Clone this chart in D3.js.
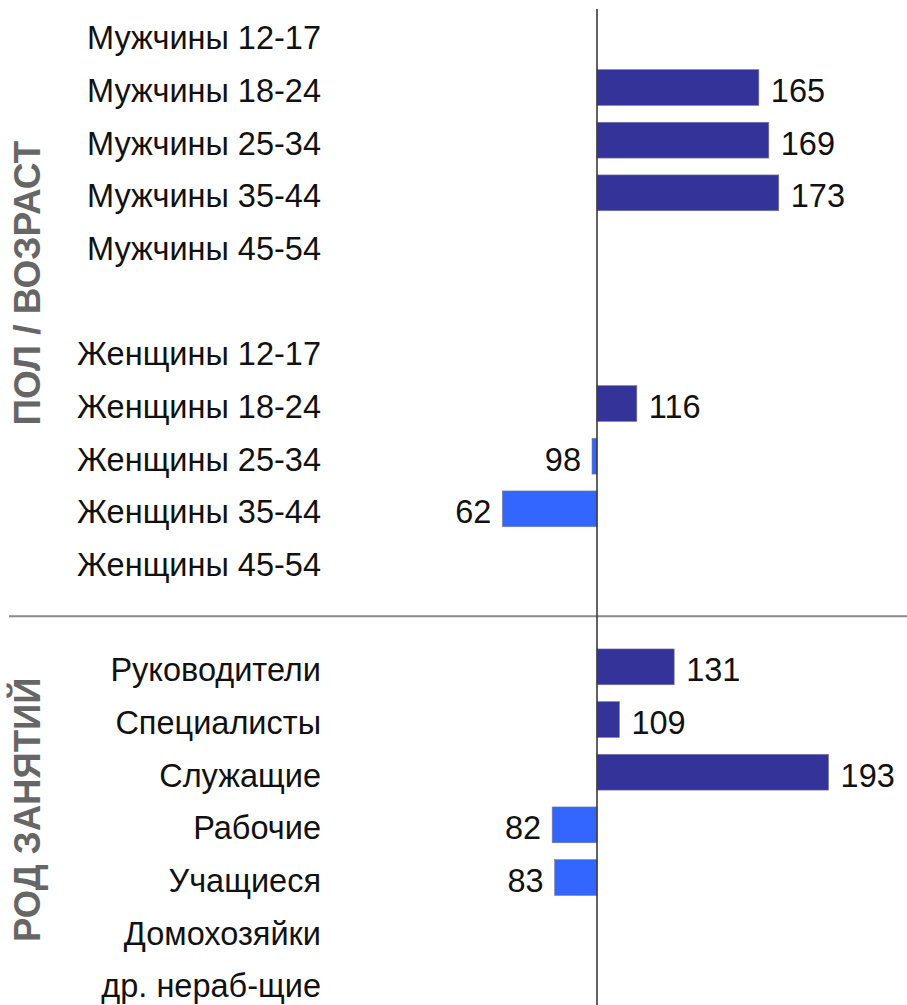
<!DOCTYPE html>
<html>
<head>
<meta charset="utf-8">
<script src="https://cdn.jsdelivr.net/npm/d3@7"></script>
<style>
  html, body { margin: 0; padding: 0; background: #fff; }
  svg { display: block; }
  text { font-family: "Liberation Sans", Arial, sans-serif; }
</style>
</head>
<body>
<svg id="chart" width="907" height="1005"></svg>
<script>
// ---- Data ----
const sexAgeTitle = "ПОЛ / ВОЗРАСТ";
const sexAgeCategories = ["Мужчины 12-17", "Мужчины 18-24", "Мужчины 25-34", "Мужчины 35-44", "Мужчины 45-54",
                          "Женщины 12-17", "Женщины 18-24", "Женщины 25-34", "Женщины 35-44", "Женщины 45-54"];
const sexAgeValues = [null, 165, 169, 173, null, null, 116, 98, 62, null];

const occupationTitle = "РОД ЗАНЯТИЙ";
const occupationCategories = ["Руководители", "Специалисты", "Служащие", "Рабочие", "Учащиеся", "Домохозяйки", "др. нераб-щие"];
const occupationValues = [131, 109, 193, 82, 83, null, null];

const baseline = 100;

// ---- Build rows (with spacer slots) ----
const rows = [];
sexAgeCategories.forEach((c, i) => {
  rows.push({ key: "a" + i, label: c, value: sexAgeValues[i] });
  if (i === 4) rows.push({ key: "gap1", label: "", value: null, spacer: true });
});
rows.push({ key: "sep", label: "", value: null, spacer: true });
occupationCategories.forEach((c, i) => rows.push({ key: "b" + i, label: c, value: occupationValues[i] }));

const svg = d3.select("#chart");

const y = d3.scaleBand()
  .domain(rows.map(d => d.key))
  .range([8.5, 1009.2])
  .paddingInner(0.32)
  .paddingOuter(0.16);

const x = d3.scaleLinear().domain([0, 200]).range([348, 846]);

const colHi = "#333399", colLo = "#3366ff";

// separator line
const sepY = y("sep") + y.bandwidth() / 2 + 2;
svg.append("line")
  .attr("x1", 9).attr("x2", 907)
  .attr("y1", sepY).attr("y2", sepY)
  .attr("stroke", "#8a8a8a").attr("stroke-width", 2);

// bars
const barRows = rows.filter(d => d.value != null);
svg.selectAll("rect.bar").data(barRows).enter().append("rect")
  .attr("class", "bar")
  .attr("x", d => Math.min(x(d.value), x(baseline)))
  .attr("width", d => Math.abs(x(d.value) - x(baseline)))
  .attr("y", d => y(d.key))
  .attr("height", y.bandwidth())
  .attr("fill", d => d.value >= baseline ? colHi : colLo)
  .attr("stroke", "#7a7a9a").attr("stroke-width", 0.6);

// value labels
svg.selectAll("text.val").data(barRows).enter().append("text")
  .attr("class", "val")
  .attr("x", d => d.value >= baseline ? x(d.value) + 12 : x(d.value) - 11)
  .attr("y", d => y(d.key) + y.bandwidth() / 2)
  .attr("dy", "0.45em")
  .attr("text-anchor", d => d.value >= baseline ? "start" : "end")
  .attr("font-size", 32.5)
  .attr("fill", "#111")
  .text(d => d.value);

// category labels
svg.selectAll("text.cat").data(rows.filter(d => !d.spacer)).enter().append("text")
  .attr("class", "cat")
  .attr("x", 321)
  .attr("y", d => y(d.key) + y.bandwidth() / 2)
  .attr("dy", "0.45em")
  .attr("text-anchor", "end")
  .attr("font-size", 32.5)
  .attr("fill", "#111")
  .text(d => d.label);

// baseline axis
svg.append("line")
  .attr("x1", x(baseline)).attr("x2", x(baseline))
  .attr("y1", 9).attr("y2", 1005)
  .attr("stroke", "#3a3a3a").attr("stroke-width", 1.6);

// group titles
function title(text, yc, fs) {
  svg.append("text")
    .attr("transform", `translate(27,${yc}) rotate(-90)`)
    .attr("text-anchor", "middle")
    .attr("dy", "0.36em")
    .attr("font-size", fs)
    .attr("font-weight", "bold")
    .attr("fill", "#666")
    .text(text);
}
const c1 = (y("a0") + y("a9") + y.bandwidth()) / 2;
const c2 = (y("b0") + y("b6") + y.bandwidth()) / 2;
title(sexAgeTitle, c1 - 15, 37);
title(occupationTitle, c2 - 15, 36.5);
</script>
</body>
</html>
